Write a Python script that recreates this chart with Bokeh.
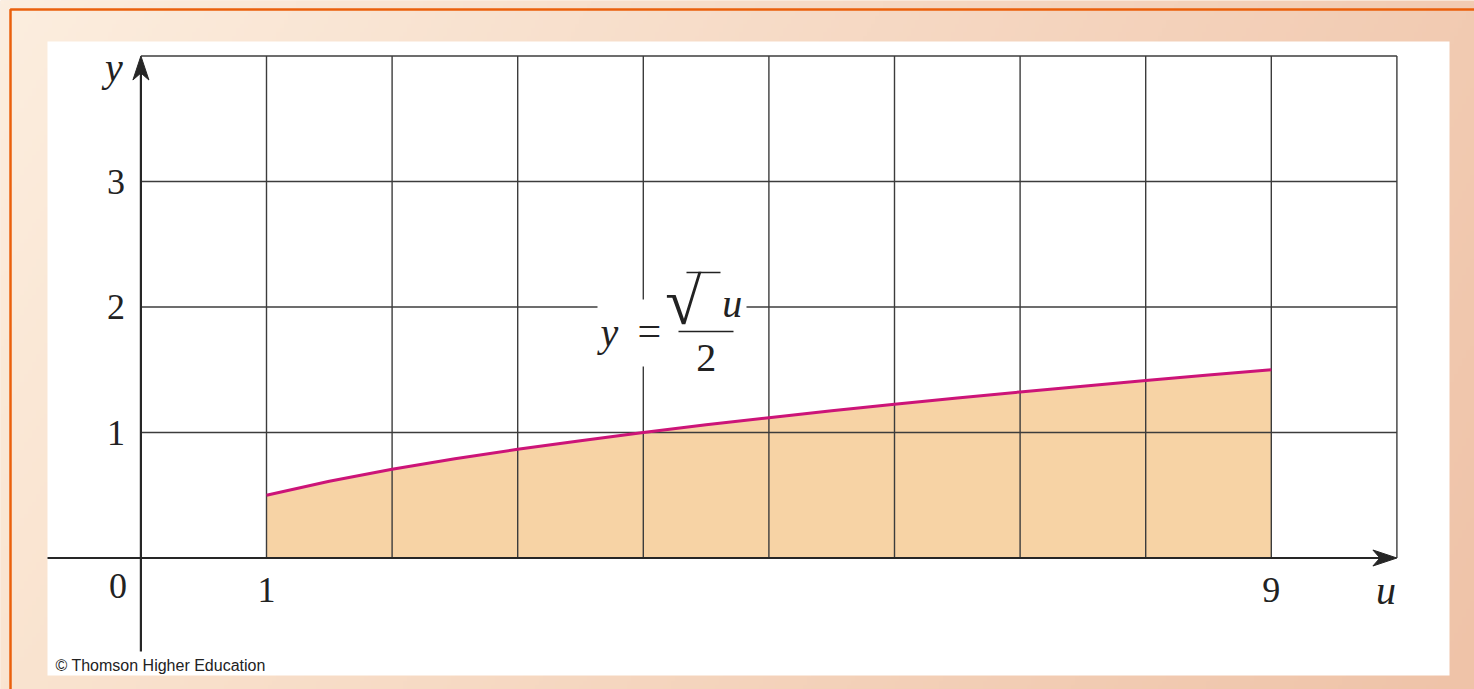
import numpy as np
from bokeh.plotting import figure
from bokeh.models import Range1d
from bokeh.core.properties import value
from bokeh.embed import file_html
from bokeh.resources import INLINE

# ---- data -------------------------------------------------------------
# curve y = sqrt(u)/2 sampled on [1, 9]
u_vals = [1.0, 1.5, 2.0, 2.5, 3.0, 3.5, 4.0, 4.5, 5.0, 5.5, 6.0, 6.5, 7.0, 7.5, 8.0, 8.5, 9.0]
y_vals = [0.50, 0.612, 0.707, 0.791, 0.866, 0.935, 1.0, 1.061, 1.118, 1.173,
          1.225, 1.275, 1.323, 1.369, 1.414, 1.458, 1.5]

grid_u = [1, 2, 3, 4, 5, 6, 7, 8, 9, 10]     # vertical grid lines
grid_y = [1, 2, 3, 4]                         # horizontal grid lines
x_ticks = [1, 9]
x_tick_labels = ["1", "9"]
y_ticks = [1, 2, 3]
y_tick_labels = ["1", "2", "3"]

# ---- canvas / scale ---------------------------------------------------
W, H = 1474, 689
PXU, OX = 125.6, 140.4      # pixels per unit u, pixel column of u = 0
PXY, OY = 125.5, 557.5      # pixels per unit y, pixel row of y = 0


def ux(px):
    return (px - OX) / PXU


def vy(py):
    return (OY - py) / PXY


p = figure(width=W, height=H, output_backend="svg", toolbar_location=None,
           x_range=Range1d(ux(0), ux(W)), y_range=Range1d(vy(H), vy(0)),
           x_axis_type=None, y_axis_type=None, min_border=0,
           outline_line_color=None,
           background_fill_color="#f6dcc4", border_fill_color="#f6dcc4")

# ---- peach gradient backdrop ------------------------------------------
gh, gw = 173, 369
tl = np.array([252, 238, 223], float)
tr = np.array([242, 203, 178], float)
bl = np.array([250, 228, 208], float)
br = np.array([239, 195, 168], float)
fx = np.linspace(0, 1, gw)[None, :, None]
fy = np.linspace(1, 0, gh)[:, None, None]          # row 0 is the bottom
col = (tl * (1 - fx) * (1 - fy) + tr * fx * (1 - fy)
       + bl * (1 - fx) * fy + br * fx * fy)
rgba = np.empty((gh, gw, 4), dtype=np.uint8)
rgba[..., :3] = np.clip(col, 0, 255).astype(np.uint8)
rgba[..., 3] = 255
img = rgba.view(np.uint32).reshape(gh, gw)
p.image_rgba(image=[img], x=ux(0), y=vy(H), dw=ux(W) - ux(0), dh=vy(0) - vy(H))

# orange frame line (left and top edges)
p.quad(left=ux(10), right=ux(W + 20), top=vy(9), bottom=vy(H + 20),
       fill_alpha=0, line_color="#ea600c", line_width=2.5)

# white panel
p.quad(left=ux(47), right=ux(1449), top=vy(41), bottom=vy(675),
       fill_color="white", line_color=None)

# ---- shaded region under the curve ------------------------------------
p.varea(x=u_vals, y1=[0] * len(u_vals), y2=y_vals, fill_color="#f7d3a5")

# ---- grid -------------------------------------------------------------
grid_col = "#3c3c3c"
p.segment(x0=grid_u, y0=[0] * len(grid_u), x1=grid_u, y1=[max(grid_y)] * len(grid_u),
          line_color=grid_col, line_width=1.4)
p.segment(x0=[0] * len(grid_y), y0=grid_y, x1=[max(grid_u)] * len(grid_y), y1=grid_y,
          line_color=grid_col, line_width=1.4)

# ---- curve ------------------------------------------------------------
p.line(u_vals, y_vals, line_color="#cc1478", line_width=3)

# ---- axes with dart-shaped arrow heads --------------------------------
axis_col = "#262626"
HEAD_LEN, HEAD_HALF, HEAD_NOTCH = 24, 8, 17      # pixels
x_end, y_end = max(grid_u), max(grid_y)

p.segment(x0=[ux(47), 0], y0=[0, vy(651)],
          x1=[x_end - HEAD_NOTCH / PXU, 0], y1=[0, y_end - HEAD_NOTCH / PXY],
          line_color=axis_col, line_width=2.2)
head_xs = [
    [x_end, x_end - HEAD_LEN / PXU, x_end - HEAD_NOTCH / PXU, x_end - HEAD_LEN / PXU],
    [0, -HEAD_HALF / PXU, 0, HEAD_HALF / PXU],
]
head_ys = [
    [0, HEAD_HALF / PXY, 0, -HEAD_HALF / PXY],
    [y_end, y_end - HEAD_LEN / PXY, y_end - HEAD_NOTCH / PXY, y_end - HEAD_LEN / PXY],
]
p.patches(xs=head_xs, ys=head_ys, fill_color=axis_col, line_color=axis_col,
          line_width=1)

serif = value("Liberation Serif")
txt_col = "#222222"

# tick labels
p.text(x=[0] * len(y_ticks), y=y_ticks, text=y_tick_labels, text_font=serif,
       text_font_size="36px", text_color=txt_col, text_align="right",
       text_baseline="middle", x_offset=-16)
p.text(x=x_ticks, y=[0] * len(x_ticks), text=x_tick_labels, text_font=serif,
       text_font_size="36px", text_color=txt_col, text_align="center",
       text_baseline="middle", y_offset=32)
p.text(x=[0], y=[0], text=["0"], text_font=serif, text_font_size="36px",
       text_color=txt_col, text_align="center", text_baseline="middle",
       x_offset=-23, y_offset=28)

# axis names
p.text(x=[0], y=[y_end], text=["y"], text_font=serif, text_font_size="40px",
       text_font_style="italic", text_color=txt_col, text_align="center",
       text_baseline="alphabetic", x_offset=-27, y_offset=11)
p.text(x=[x_end], y=[0], text=["u"], text_font=serif, text_font_size="40px",
       text_font_style="italic", text_color=txt_col, text_align="center",
       text_baseline="alphabetic", x_offset=-11, y_offset=32)

# ---- formula label y = sqrt(u) / 2 ------------------------------------
p.quad(left=ux(597), right=ux(746), top=vy(299), bottom=vy(366),
       fill_color="white", line_color=None)
fu, fy0 = 4, 2          # anchor of the label (grid crossing)
p.text(x=[fu], y=[fy0], text=["y"], text_font=serif, text_font_size="40px",
       text_font_style="italic", text_color=txt_col, text_align="center",
       text_baseline="alphabetic", x_offset=-34, y_offset=25)
p.text(x=[fu], y=[fy0], text=["="], text_font=serif, text_font_size="42px",
       text_color=txt_col, text_align="center",
       text_baseline="alphabetic", x_offset=6, y_offset=24)
p.text(x=[fu], y=[fy0], text=["\u221a"], text_font=serif, text_font_size="66px",
       text_color=txt_col, text_align="left",
       text_baseline="alphabetic", x_offset=22, y_offset=-6)
p.text(x=[fu], y=[fy0], text=["u"], text_font=serif, text_font_size="40px",
       text_font_style="italic", text_color=txt_col, text_align="left",
       text_baseline="alphabetic", x_offset=79, y_offset=-4)
p.text(x=[fu], y=[fy0], text=["2"], text_font=serif, text_font_size="40px",
       text_color=txt_col, text_align="center",
       text_baseline="alphabetic", x_offset=63, y_offset=51)
p.segment(x0=[ux(686)], y0=[vy(272)], x1=[ux(720)], y1=[vy(272)],
          line_color=txt_col, line_width=1.5)
p.segment(x0=[ux(678)], y0=[vy(331)], x1=[ux(733)], y1=[vy(331)],
          line_color=txt_col, line_width=1.6)

# ---- credit line ------------------------------------------------------
p.text(x=[ux(55)], y=[vy(665)], text=["\u00a9 Thomson Higher Education"],
       text_font=value("Liberation Sans"), text_font_size="16px",
       text_color=txt_col, text_align="left", text_baseline="alphabetic")

open("out.html", "w").write(file_html(p, INLINE))
